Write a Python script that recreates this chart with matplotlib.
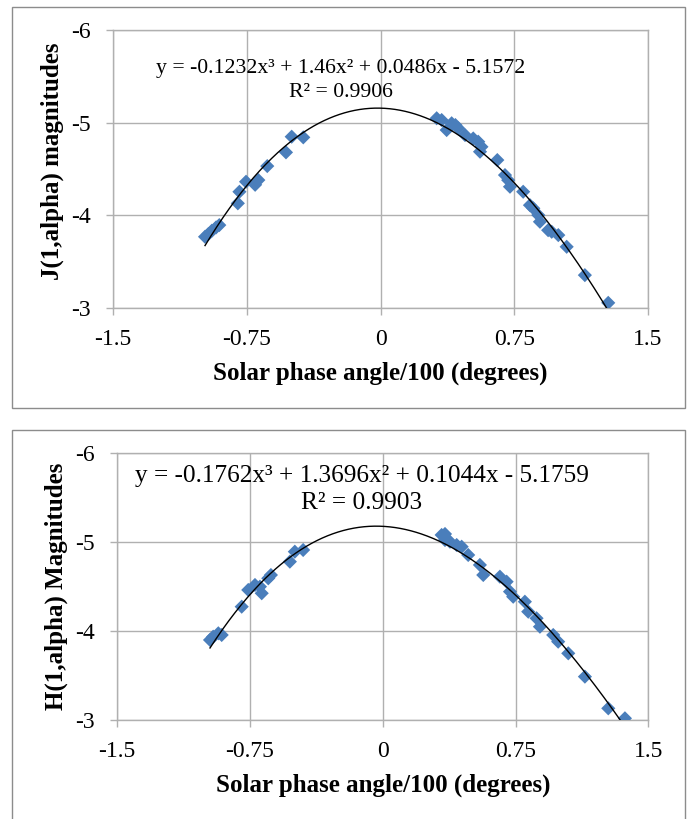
import numpy as np
import matplotlib
matplotlib.use("Agg")
import matplotlib.pyplot as plt
from matplotlib.patches import Rectangle

# ---------------- data ----------------
j_x = [-0.984, -0.965, -0.946, -0.922, -0.904, -0.800, -0.791, -0.754, -0.703, -0.685,
       -0.635, -0.530, -0.498, -0.433,
       0.315, 0.343, 0.371, 0.399, 0.420, 0.436, 0.474, 0.520, 0.548, 0.558, 0.566,
       0.655, 0.698, 0.716, 0.726, 0.800, 0.838, 0.857, 0.885, 0.894, 0.940, 0.960,
       0.997, 1.044, 1.146, 1.277]
j_y = [-3.769, -3.798, -3.834, -3.870, -3.895, -4.130, -4.255, -4.363, -4.330, -4.381,
       -4.532, -4.680, -4.849, -4.842,
       -5.048, -5.029, -4.921, -4.994, -4.975, -4.940, -4.867, -4.830, -4.795, -4.687, -4.740,
       -4.597, -4.435, -4.380, -4.309, -4.255, -4.110, -4.076, -4.003, -3.931, -3.840, -3.823,
       -3.787, -3.661, -3.355, -3.056]

h_x = [-0.976, -0.958, -0.929, -0.910, -0.797, -0.760, -0.722, -0.694, -0.684, -0.647,
       -0.632, -0.525, -0.497, -0.450,
       0.332, 0.351, 0.351, 0.379, 0.417, 0.445, 0.482, 0.548, 0.567, 0.661, 0.699,
       0.718, 0.736, 0.802, 0.821, 0.868, 0.887, 0.962, 0.990, 1.047, 1.141, 1.273, 1.367]
h_y = [-3.899, -3.936, -3.974, -3.955, -4.273, -4.461, -4.517, -4.498, -4.424, -4.592,
       -4.629, -4.779, -4.891, -4.910,
       -5.079, -5.022, -5.090, -5.003, -4.966, -4.947, -4.854, -4.742, -4.629, -4.610, -4.554,
       -4.442, -4.385, -4.329, -4.217, -4.143, -4.048, -3.955, -3.880, -3.749, -3.487, -3.131, -3.019]

# trendline coefficients (cubic, highest power first), as printed on the chart
j_coef = [-0.1232, 1.46, 0.0486, -5.1572]
h_coef = [-0.1762, 1.3696, 0.1044, -5.1759]
j_eq = "y = -0.1232x\u00b3 + 1.46x\u00b2 + 0.0486x - 5.1572"
j_r2 = "R\u00b2 = 0.9906"
h_eq = "y = -0.1762x\u00b3 + 1.3696x\u00b2 + 0.1044x - 5.1759"
h_r2 = "R\u00b2 = 0.9903"

x_ticks = [-1.5, -0.75, 0, 0.75, 1.5]
x_ticklabels = ["-1.5", "-0.75", "0", "0.75", "1.5"]
y_ticks = [-6, -5, -4, -3]
y_ticklabels = ["-6", "-5", "-4", "-3"]

x_label = "Solar phase angle/100 (degrees)"
j_ylabel = "J(1,alpha) magnitudes"
h_ylabel = "H(1,alpha) Magnitudes"

# ---------------- style ----------------
plt.rcParams['font.family'] = ['Liberation Serif', 'DejaVu Serif']
MARKER_C = '#4A7EBB'
GRID_C = '#B0B0B0'
FRAME_C = '#8C8C8C'

fig = plt.figure(figsize=(6.89, 8.19), dpi=100)

# outer chart frames
fig.patches.append(Rectangle((0.0174, 0.5018), 0.9768, 0.4896, transform=fig.transFigure,
                             fill=False, edgecolor=FRAME_C, linewidth=1.0))
fig.patches.append(Rectangle((0.0174, -0.05), 0.9768, 0.525, transform=fig.transFigure,
                             fill=False, edgecolor=FRAME_C, linewidth=1.0))


def panel(rect, xs, ys, coef, eq, r2, ylabel, eq_pos, r2_pos, eq_size, ylab_pos, xlab_y):
    ax = fig.add_axes(rect)
    ax.set_xlim(-1.5, 1.5)
    ax.set_ylim(-3, -6)
    ax.set_xticks(x_ticks)
    ax.set_xticklabels(x_ticklabels)
    ax.set_yticks(y_ticks)
    ax.set_yticklabels(y_ticklabels)
    ax.grid(True, color=GRID_C, linewidth=1.0)
    ax.set_axisbelow(True)
    for s in ax.spines.values():
        s.set_color(GRID_C)
        s.set_linewidth(1.0)
    ax.tick_params(axis='both', direction='out', length=5, width=1.0, color=GRID_C,
                   labelsize=17, labelcolor='black')
    ax.tick_params(axis='y', pad=11)
    ax.tick_params(axis='x', pad=10)

    ax.scatter(xs, ys, marker='D', s=52, color=MARKER_C, edgecolors='none', zorder=3)
    xx = np.linspace(min(xs), max(xs), 400)
    ax.plot(xx, np.polyval(coef, xx), color='black', linewidth=1.0, zorder=4)

    ax.text(eq_pos[0], eq_pos[1], eq, transform=ax.transAxes, ha='center', va='center',
            fontsize=eq_size)
    ax.text(r2_pos[0], r2_pos[1], r2, transform=ax.transAxes, ha='center', va='center',
            fontsize=eq_size)

    ax.set_ylabel(ylabel, fontsize=18, fontweight='bold')
    ax.yaxis.set_label_coords(ylab_pos[0], ylab_pos[1])
    ax.yaxis.label.set_va('center')
    ax.set_xlabel(x_label, fontsize=18, fontweight='bold')
    ax.xaxis.set_label_coords(0.5, xlab_y)
    ax.xaxis.label.set_va('center')
    return ax


panel([0.164, 0.6239, 0.7765, 0.3394], j_x, j_y, j_coef, j_eq, j_r2, j_ylabel,
      (0.426, 0.86), (0.426, 0.775), 15.7, (-0.114, 0.527), -0.234)
panel([0.1701, 0.1209, 0.7711, 0.326], h_x, h_y, h_coef, h_eq, h_r2, h_ylabel,
      (0.461, 0.915), (0.46, 0.812), 18.2, (-0.115, 0.5), -0.243)

fig.savefig("out.png", dpi=100)
